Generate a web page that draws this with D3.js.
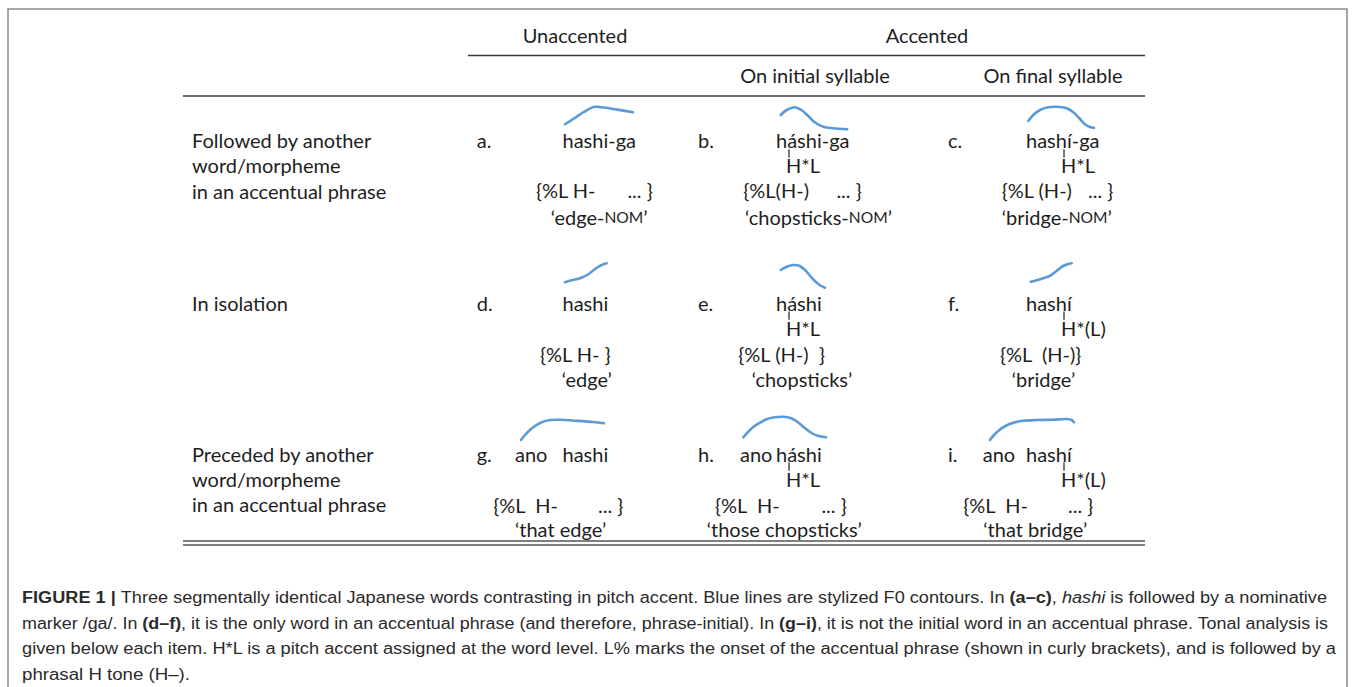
<!DOCTYPE html>
<html><head><meta charset="utf-8">
<script src="https://cdn.jsdelivr.net/npm/d3@7"></script>
<style>
html,body{margin:0;padding:0;background:#fff;}
svg{display:block;}
text{white-space:pre;}
</style></head><body>
<svg id="chart" width="1355" height="687"></svg>
<script>
// ---------------- data ----------------
const headerGroups = ["Unaccented", "Accented"];
const headerSubs = ["On initial syllable", "On final syllable"];
const rowLabels = [
  ["Followed by another", "word/morpheme", "in an accentual phrase"],
  ["In isolation"],
  ["Preceded by another", "word/morpheme", "in an accentual phrase"]
];
const itemLetters = ["a.", "b.", "c.", "d.", "e.", "f.", "g.", "h.", "i."];
const wordPrefixes = ["", "", "", "", "", "", "ano", "ano", "ano"];
const words = ["hashi-ga", "háshi-ga", "hashí-ga", "hashi", "háshi", "hashí", "hashi", "háshi", "hashí"];
const accents = ["", "H*L", "H*L", "", "H*L", "H*(L)", "", "H*L", "H*(L)"];
const analysesLeft = ["{%L H-", "{%L(H-)", "{%L (H-)", "{%L H- }", "{%L (H-)", "{%L  (H-)}", "{%L  H-", "{%L  H-", "{%L  H-"];
const analysesRight = ["... }", "... }", "... }", "", "}", "", "... }", "... }", "... }"];
const glossWords = ["edge-", "chopsticks-", "bridge-", "edge", "chopsticks", "bridge", "that edge", "those chopsticks", "that bridge"];
const glossMorphemes = ["NOM", "NOM", "NOM", "", "", "", "", "", ""];

// stylized F0 contours: [normalized time, normalized F0]
const contourA = [[0,.27],[.12,.48],[.27,.75],[.42,.96],[.51,.96],[.71,.88],[1,.75]];
const contourB = [[0,.64],[.09,.84],[.21,.95],[.31,.84],[.41,.61],[.51,.35],[.64,.17],[.79,.11],[1,.07]];
const contourC = [[0,.40],[.076,.64],[.178,.84],[.304,.95],[.431,.97],[.584,.91],[.685,.75],[.777,.51],[.863,.27],[.939,.16],[1,.13]];
const contourD = [[0,.27],[.16,.35],[.36,.43],[.56,.59],[.72,.80],[.88,.96],[1,1.03]];
const contourE = [[0,.76],[.135,.89],[.285,.96],[.42,.93],[.55,.76],[.66,.53],[.77,.32],[.88,.16],[1,.05]];
const contourF = [[0,.29],[.146,.35],[.307,.43],[.47,.53],[.63,.72],[.79,.92],[.915,1.0],[1,1.03]];
const contourG = [[0,.04],[.048,.24],[.108,.44],[.169,.6],[.25,.75],[.35,.84],[.47,.85],[.67,.81],[.87,.76],[1,.71]];
const contourH = [[0,.15],[.06,.37],[.12,.56],[.2,.73],[.28,.87],[.38,.95],[.48,.97],[.58,.91],[.66,.75],[.74,.53],[.82,.33],[.9,.21],[1,.15]];
const contourI = [[0,.04],[.048,.24],[.111,.44],[.19,.61],[.278,.73],[.397,.81],[.556,.84],[.754,.85],[.913,.88],[.972,.84],[1,.75]];
const contours = [contourA, contourB, contourC, contourD, contourE, contourF, contourG, contourH, contourI];

const captionLines = [
  [["b","FIGURE 1 | "],["n","Three segmentally identical Japanese words contrasting in pitch accent. Blue lines are stylized F0 contours. In "],["b","(a–c)"],["n",", "],["i","hashi"],["n"," is followed by a nominative"]],
  [["n","marker /ga/. In "],["b","(d–f)"],["n",", it is the only word in an accentual phrase (and therefore, phrase-initial). In "],["b","(g–i)"],["n",", it is not the initial word in an accentual phrase. Tonal analysis is"]],
  [["n","given below each item. H*L is a pitch accent assigned at the word level. L% marks the onset of the accentual phrase (shown in curly brackets), and is followed by a"]],
  [["n","phrasal H tone (H–)."]]
];

// ---------------- layout ----------------
const W = 1355, H = 687;
const FONT = "Lato, 'Open Sans', sans-serif";
const FS = 20;
const INK = "#1e1e1e";
const BLUE = "#5b9bd5";
const DY = -1.5;

const colIndex = [0, 1, 2];
const rowIndex = [0, 1, 2];
const letterX = d3.scaleOrdinal().domain(colIndex).range([476.7, 698, 948]);
const wordX = d3.scaleOrdinal().domain(colIndex).range([562.5, 776, 1026]);
const prefixX = d3.scaleOrdinal().domain(colIndex).range([515, 740, 982.7]);
const toneX = d3.scaleOrdinal().domain(colIndex).range([0, 786, 1061]);
const wordY = d3.scaleOrdinal().domain(rowIndex).range([141.7 + DY, 304 + DY, 455 + DY]);
const analysisY = d3.scaleOrdinal().domain(rowIndex).range([191.7 + DY, 355 + DY, 506.7 + DY]);
const glossY = d3.scaleOrdinal().domain(rowIndex).range([218 + DY, 380 + DY, 530 + DY]);
const f0Base = d3.scaleOrdinal().domain(rowIndex).range([131, 289, 441]);
const F0RANGE = 25;
const analysisLeftX = [536, 743.3, 1001.7, 540, 738.3, 1000, 493.3, 715, 963.3];
const analysisRightX = [652.7, 861.7, 1113.3, 0, 825, 0, 623.3, 846.7, 1093.3];
const glossX = [550.7, 745, 1001.7, 561.7, 751.7, 1011.7, 515, 706.7, 983.3];
const contourSpan = [[565,633],[780.7,847.3],[1028.3,1094],[565,606.7],[780.7,825],[1030.7,1071.7],[521,604],[743.3,826],[990,1074]];

const svg = d3.select("#chart");
svg.append("rect").attr("width", W).attr("height", H).attr("fill", "#fff");
// frame
svg.append("rect").attr("x", 8).attr("y", 9).attr("width", 1339).attr("height", 720)
  .attr("fill", "none").attr("stroke", "#8a8a8a").attr("stroke-width", 1.5);

const g = svg.append("g").attr("font-family", FONT).attr("font-size", FS).attr("fill", INK);

function txt(parent, x, y, s, anchor) {
  return parent.append("text").attr("x", x).attr("y", y)
    .attr("dominant-baseline", "central")
    .attr("text-anchor", anchor || "start").text(s);
}

// header
const groupCenters = [575, 927];
headerGroups.forEach((h, i) => txt(g, groupCenters[i], 35, h, "middle"));
const subCenters = [815, 1053];
headerSubs.forEach((h, i) => txt(g, subCenters[i], 74.5, h, "middle"));
const ruleColor = "#3a3a3a";
g.append("line").attr("x1", 468).attr("x2", 1145).attr("y1", 55.5).attr("y2", 55.5).attr("stroke", ruleColor).attr("stroke-width", 1.3);
g.append("line").attr("x1", 183).attr("x2", 1145).attr("y1", 96).attr("y2", 96).attr("stroke", ruleColor).attr("stroke-width", 1.5);
g.append("line").attr("x1", 183).attr("x2", 1145).attr("y1", 541).attr("y2", 541).attr("stroke", "#555").attr("stroke-width", 1.3);
g.append("line").attr("x1", 183).attr("x2", 1145).attr("y1", 545).attr("y2", 545).attr("stroke", "#555").attr("stroke-width", 1.3);

// row labels
const rowLabelTop = [141.7 + DY, 304 + DY, 455 + DY];
rowLabels.forEach((lines, r) => {
  lines.forEach((s, k) => txt(g, 192, rowLabelTop[r] + k * 25.2, s));
});

// items
const line = d3.line().curve(d3.curveCatmullRom.alpha(0.5));
itemLetters.forEach((letter, i) => {
  const r = Math.floor(i / 3), c = i % 3;
  const ig = g.append("g");
  txt(ig, letterX(c), wordY(r), letter);
  if (wordPrefixes[i]) txt(ig, prefixX(c), wordY(r), wordPrefixes[i]);
  txt(ig, wordX(c), wordY(r), words[i]);
  if (accents[i]) {
    const tx = toneX(c);
    const ty = wordY(r) + 25.2;
    txt(ig, tx, ty, accents[i]);
    ig.append("line").attr("x1", tx + 3).attr("x2", tx + 3)
      .attr("y1", wordY(r) + 9).attr("y2", ty - 8)
      .attr("stroke", INK).attr("stroke-width", 1.2);
  }
  txt(ig, analysisLeftX[i], analysisY(r), analysesLeft[i]);
  if (analysesRight[i]) txt(ig, analysisRightX[i], analysisY(r), analysesRight[i], "end");
  const gt = txt(ig, glossX[i], glossY(r), "");
  gt.append("tspan").text("\u2018" + glossWords[i]);
  if (glossMorphemes[i]) gt.append("tspan").attr("font-size", FS * 0.78).text(glossMorphemes[i]);
  gt.append("tspan").text("\u2019");

  // contour
  const xs = d3.scaleLinear().domain([0, 1]).range(contourSpan[i]);
  const ys = d3.scaleLinear().domain([0, 1]).range([f0Base(r), f0Base(r) - F0RANGE]);
  svg.append("path").attr("d", line(contours[i].map(p => [xs(p[0]), ys(p[1])])))
    .attr("fill", "none").attr("stroke", BLUE).attr("stroke-width", 2.6)
    .attr("stroke-linecap", "round").attr("stroke-linejoin", "round");
});

// caption
const cap = svg.append("g").attr("font-family", "'Liberation Sans Narrow', 'Liberation Sans', Arial, sans-serif")
  .attr("font-size", 16).attr("fill", "#2a2a2a");
const capBaselines = [603, 628.5, 654, 679.5];
const capWidths = [1305, 1306, 1314, 168];
captionLines.forEach((parts, k) => {
  const t = cap.append("text").attr("x", 22).attr("y", capBaselines[k])
    .attr("textLength", capWidths[k]).attr("lengthAdjust", "spacingAndGlyphs");
  parts.forEach(([style, s]) => {
    const ts = t.append("tspan").text(s);
    if (style === "b") ts.attr("font-weight", "bold").attr("font-family", "'Liberation Sans', Arial, sans-serif");
    if (style === "i") ts.attr("font-style", "italic");
  });
});
</script>
</body></html>
